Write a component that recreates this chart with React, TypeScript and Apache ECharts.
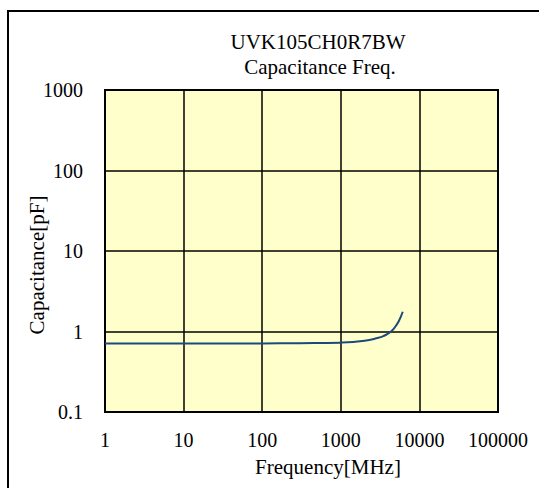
import React, { useEffect, useRef } from "react";
import * as echarts from "echarts";

const titleLines = ["UVK105CH0R7BW", "Capacitance Freq."];
const xAxisName = "Frequency[MHz]";
const yAxisName = "Capacitance[pF]";
const frequencyMHz = [1, 10, 100, 300, 1000, 2000, 3000, 3500, 4000, 4500, 5000, 5500, 6140];
const capacitancePF = [0.71, 0.71, 0.712, 0.716, 0.727, 0.765, 0.835, 0.88, 0.945, 1.03, 1.17, 1.36, 1.76];

const FONT = "'Times New Roman', 'Liberation Serif', serif";

function fmt(v: number) {
  return String(Number(Number(v).toPrecision(6)));
}

export default function App() {
  const ref = useRef<HTMLDivElement>(null);
  useEffect(() => {
    if (!ref.current) return;
    const chart = echarts.init(ref.current, undefined, { renderer: "svg" });
    const data = frequencyMHz.map((f, i) => [f, capacitancePF[i]]);
    chart.setOption({
      animation: false,
      backgroundColor: "#ffffff",
      grid: {
        left: 105,
        top: 90,
        width: 393,
        height: 322,
        show: true,
        backgroundColor: "#FFFFCC",
        borderColor: "#000000",
        borderWidth: 2,
      },
      xAxis: {
        type: "log",
        logBase: 10,
        min: 1,
        max: 100000,
        axisLine: { show: true, lineStyle: { color: "#000", width: 2 } },
        axisTick: { show: false },
        splitLine: { show: true, lineStyle: { color: "#000", width: 1.5 } },
        axisLabel: {
          color: "#000",
          fontFamily: FONT,
          fontSize: 20,
          margin: 18,
          formatter: (v: number) => fmt(v),
        },
      },
      yAxis: {
        type: "log",
        logBase: 10,
        min: 0.1,
        max: 1000,
        axisLine: { show: true, lineStyle: { color: "#000", width: 2 } },
        axisTick: { show: false },
        splitLine: { show: true, lineStyle: { color: "#000", width: 1.5 } },
        axisLabel: {
          color: "#000",
          fontFamily: FONT,
          fontSize: 20,
          margin: 22,
          formatter: (v: number) => fmt(v),
        },
      },
      series: [
        {
          type: "line",
          data,
          smooth: true,
          showSymbol: false,
          symbol: "none",
          lineStyle: { color: "#1b4a7a", width: 2 },
        },
      ],
      graphic: [
        {
          type: "rect",
          shape: { x: 8, y: 11, width: 560, height: 520 },
          style: { fill: "none", stroke: "#000", lineWidth: 2 },
          silent: true,
        },
        {
          type: "text",
          x: 318,
          y: 42,
          style: {
            text: titleLines[0],
            font: `21px ${FONT}`,
            fill: "#000",
            align: "center",
            verticalAlign: "middle",
          },
        },
        {
          type: "text",
          x: 320,
          y: 67,
          style: {
            text: titleLines[1],
            font: `21px ${FONT}`,
            fill: "#000",
            align: "center",
            verticalAlign: "middle",
          },
        },
        {
          type: "text",
          x: 328,
          y: 467,
          style: {
            text: xAxisName,
            font: `21px ${FONT}`,
            fill: "#000",
            align: "center",
            verticalAlign: "middle",
          },
        },
        {
          type: "text",
          x: 37,
          y: 265,
          rotation: Math.PI / 2,
          style: {
            text: yAxisName,
            font: `21px ${FONT}`,
            fill: "#000",
            align: "center",
            verticalAlign: "middle",
          },
        },
      ],
    });
    return () => chart.dispose();
  }, []);
  return (
    <div
      ref={ref}
      style={{ position: "absolute", left: 0, top: 0, width: 539, height: 488 }}
    />
  );
}
